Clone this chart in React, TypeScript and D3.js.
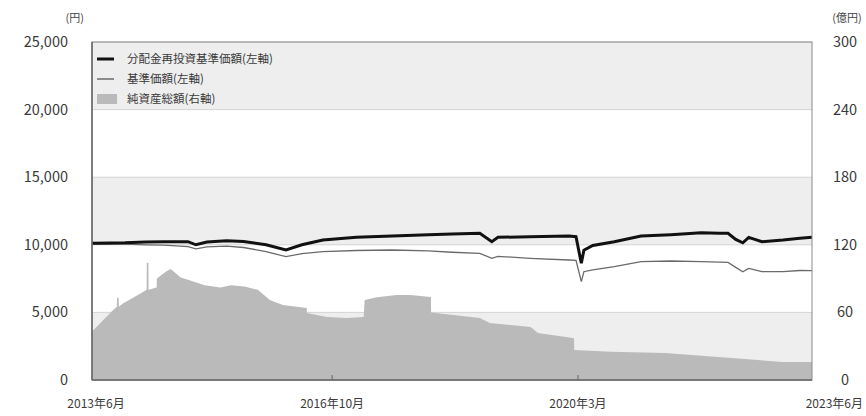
import * as React from 'react';
import * as d3 from 'd3';

const width = 866;
const height = 416;
const margin = {top: 42, right: 54, bottom: 36, left: 92};

// 分配金再投資基準価額 (円, left axis)
const reinvestDates = ['2013-06-01', '2013-09-01', '2013-11-15', '2014-03-01', '2014-06-01', '2014-10-01', '2014-11-10', '2015-01-05',
  '2015-04-15', '2015-07-10', '2015-11-01', '2016-02-10', '2016-05-01', '2016-08-15', '2017-02-01', '2017-08-01',
  '2018-02-01', '2018-06-01', '2018-10-20', '2018-12-20', '2019-01-20', '2019-07-01', '2020-01-15', '2020-02-20',
  '2020-03-18', '2020-03-31', '2020-05-15', '2020-09-01', '2021-01-15', '2021-06-15', '2021-11-15', '2022-02-15',
  '2022-04-01', '2022-05-10', '2022-06-15', '2022-07-15', '2022-09-20', '2023-01-05', '2023-04-01', '2023-06-01'];
const reinvestValues = [10110, 10140, 10150, 10200, 10220, 10230, 10000, 10200,
  10300, 10250, 10000, 9620, 10000, 10350, 10550, 10650,
  10750, 10800, 10850, 10230, 10550, 10600, 10650, 10600,
  8630, 9600, 9950, 10230, 10650, 10750, 10890, 10850,
  10850, 10400, 10150, 10550, 10230, 10350, 10480, 10550];

// 基準価額 (円, left axis)
const navValues = [10050, 10050, 10050, 10000, 9980, 9860, 9700, 9850,
  9900, 9800, 9500, 9120, 9350, 9490, 9580, 9615,
  9550, 9450, 9370, 9000, 9150, 9000, 8875, 8850,
  7270, 8010, 8150, 8380, 8750, 8800, 8750, 8720,
  8700, 8330, 8010, 8250, 8010, 8010, 8100, 8085];

// 純資産総額 (億円, right axis)
const assetDates = ['2013-06-01', '2013-09-10', '2013-10-05', '2013-10-06', '2013-10-14', '2013-10-15', '2013-11-05', '2014-02-15',
  '2014-03-05', '2014-03-06', '2014-03-14', '2014-03-15', '2014-04-25', '2014-04-26', '2014-06-10', '2014-07-05',
  '2014-08-25', '2014-10-01', '2014-12-25', '2015-03-15', '2015-05-05', '2015-07-15', '2015-09-20', '2015-11-20',
  '2016-01-25', '2016-05-25', '2016-05-26', '2016-09-05', '2016-12-15', '2017-03-10', '2017-03-15', '2017-05-15',
  '2017-08-25', '2017-11-01', '2018-02-14', '2018-02-15', '2018-10-20', '2018-12-10', '2019-07-05', '2019-08-10',
  '2020-01-10', '2020-02-10', '2020-02-11', '2020-08-15', '2021-05-15', '2022-04-20', '2023-01-01', '2023-06-01'];
const assetValues = [43, 61, 65, 73, 73, 65, 68, 78,
  80, 104, 104, 80, 82, 90, 96, 98.5,
  91, 89, 84, 82, 84, 83, 80, 71,
  66.5, 64, 59.5, 56, 55, 56, 71, 73.5,
  75.5, 75.5, 73.7, 60, 55, 50.6, 47, 41.7,
  38, 37, 26.6, 25, 24, 19.5, 16, 16];

const leftTicks = [0, 5000, 10000, 15000, 20000, 25000];
const rightTicks = [0, 60, 120, 180, 240, 300];
const xTicks = ['2013-06-01', '2016-10-01', '2020-03-01', '2023-06-01'];
const xTickLabels = ['2013年6月', '2016年10月', '2020年3月', '2023年6月'];

const legendItems = ['分配金再投資基準価額(左軸)', '基準価額(左軸)', '純資産総額(右軸)'];

const parse = d3.timeParse('%Y-%m-%d');
const font = '"Noto Sans CJK JP", "Noto Sans", sans-serif';

export default function App() {
  const x = d3.scaleTime()
    .domain([parse('2013-06-01')!, parse('2023-06-01')!])
    .range([margin.left, width - margin.right]);
  const yL = d3.scaleLinear().domain([0, 25000]).range([height - margin.bottom, margin.top]);
  const yR = d3.scaleLinear().domain([0, 300]).range([height - margin.bottom, margin.top]);

  const reinvest = reinvestDates.map((d, i) => ({date: parse(d)!, v: reinvestValues[i]}));
  const nav = reinvestDates.map((d, i) => ({date: parse(d)!, v: navValues[i]}));
  const assets = assetDates.map((d, i) => ({date: parse(d)!, v: assetValues[i]}));

  const line = d3.line<{date: Date; v: number}>().x(d => x(d.date)).y(d => yL(d.v));
  const area = d3.area<{date: Date; v: number}>().x(d => x(d.date)).y0(yR(0)).y1(d => yR(d.v));

  const x0 = margin.left;
  const x1 = width - margin.right;
  const bands = leftTicks.slice(0, -1);

  return (
    <svg width={width} height={height} style={{position: 'absolute', left: 0, top: 0, background: '#fff'}}
         fontFamily={font}>
      {bands.map((b, i) => (
        <rect key={b} x={x0} y={yL(b + 5000)} width={x1 - x0} height={yL(b) - yL(b + 5000)}
              fill={i % 2 === 0 ? '#eeeeee' : '#ffffff'}/>
      ))}
      {leftTicks.map(t => (
        <line key={t} x1={x0} x2={x1} y1={yL(t)} y2={yL(t)} stroke="#d4d4d4" strokeWidth={1}/>
      ))}
      <path d={area(assets)!} fill="#bababa"/>
      <path d={line(nav)!} fill="none" stroke="#6a6a6a" strokeWidth={1.3}/>
      <path d={line(reinvest)!} fill="none" stroke="#111" strokeWidth={3}/>

      <rect x={x0} y={margin.top} width={x1 - x0} height={yL(0) - margin.top} fill="none" stroke="#8a8a8a" strokeWidth={1}/>
      <line x1={x0} x2={x0} y1={margin.top} y2={yL(0)} stroke="#666" strokeWidth={1.5}/>
      <line x1={x0} x2={x1} y1={yL(0)} y2={yL(0)} stroke="#666" strokeWidth={1.5}/>
      {xTicks.slice(1, -1).map(t => (
        <line key={t} x1={x(parse(t)!)} x2={x(parse(t)!)} y1={yL(0)} y2={yL(0) - 5} stroke="#666" strokeWidth={1}/>
      ))}

      <text x={84} y={22} fontSize={11} fill="#444" textAnchor="end">(円)</text>
      {leftTicks.map(t => (
        <text key={t} x={68} y={yL(t)} dy="0.35em" fontSize={14.5} fill="#3a3a3a" textAnchor="end">
          {d3.format(',')(t)}
        </text>
      ))}
      <text x={847} y={22} fontSize={11} fill="#444" textAnchor="middle">(億円)</text>
      {rightTicks.map(t => (
        <text key={t} x={845} y={yR(t)} dy="0.35em" fontSize={14.5} fill="#3a3a3a" textAnchor="middle">{t}</text>
      ))}
      {xTicks.map((t, i) => (
        <text key={t} x={i === xTicks.length - 1 ? width - 3 : x(parse(t)!) + (i === 0 ? 4 : 0)} y={404} dy="0.35em"
              fontSize={12} fill="#3a3a3a" textAnchor={i === xTicks.length - 1 ? 'end' : 'middle'}>
          {xTickLabels[i]}
        </text>
      ))}

      {legendItems.map((name, i) => {
        const ly = 59 + i * 20;
        return (
          <g key={name}>
            {i === 0 && <line x1={97} x2={114} y1={ly} y2={ly} stroke="#111" strokeWidth={3}/>}
            {i === 1 && <line x1={97} x2={114} y1={ly} y2={ly} stroke="#6a6a6a" strokeWidth={1.5}/>}
            {i === 2 && <rect x={97} y={ly - 5} width={20} height={10} fill="#bababa"/>}
            <text x={127} y={ly} dy="0.35em" fontSize={11.5} fill="#3a3a3a">{name}</text>
          </g>
        );
      })}
    </svg>
  );
}
